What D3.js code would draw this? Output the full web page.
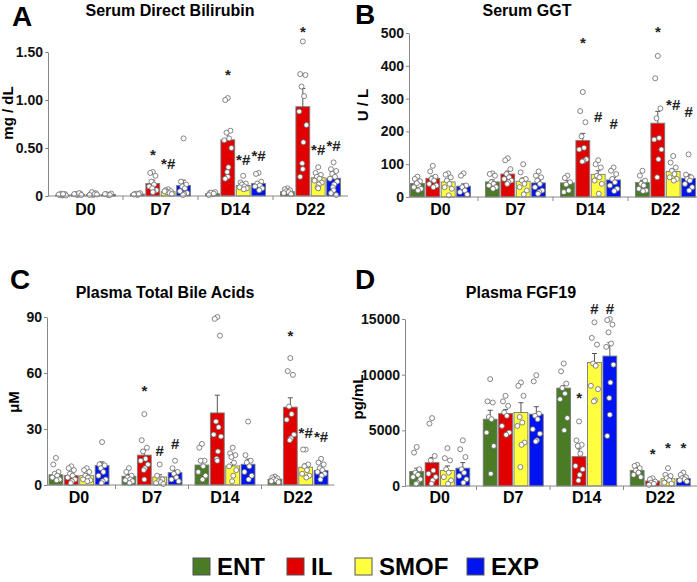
<!DOCTYPE html>
<html>
<head>
<meta charset="utf-8">
<script src="https://cdn.jsdelivr.net/npm/d3@7"></script>
<style>
  body { margin: 0; background: #fff; }
  svg { display: block; }
  text { font-family: "Liberation Sans", Arial, sans-serif; font-weight: bold; }
</style>
</head>
<body>
<script>
// categories
var days = ["D0", "D7", "D14", "D22"];
var groups = ["ENT", "IL", "SMOF", "EXP"];
var groupColors = ["#4a7b25", "#e00000", "#ffff40", "#0014f2"];

// A - serum direct bilirubin (mg/dL), rows = day, cols = group
var dbilMean = [[0.01, 0.015, 0.015, 0.015], [0.02, 0.13, 0.045, 0.11], [0.025, 0.585, 0.11, 0.13], [0.045, 0.93, 0.19, 0.185]];
var dbilSem = [[0.003, 0.003, 0.004, 0.003], [0.003, 0.035, 0.008, 0.055], [0.004, 0.085, 0.015, 0.02], [0.008, 0.19, 0.022, 0.03]];
var dbilPts = [
    [[0.005, 0.01, 0.02, 0.025, 0.01, 0.015, 0.005, 0.02], [0.01, 0.02, 0.025, 0.015, 0.03, 0.02, 0.01], [0.01, 0.02, 0.03, 0.04, 0.02, 0.01, 0.015], [0.01, 0.02, 0.025, 0.015, 0.01, 0.02]],
    [[0.01, 0.02, 0.03, 0.025, 0.02, 0.015], [0.25, 0.24, 0.21, 0.15, 0.12, 0.1, 0.06, 0.05, 0.08, 0.04], [0.07, 0.06, 0.05, 0.04, 0.03, 0.05, 0.02], [0.6, 0.15, 0.12, 0.1, 0.08, 0.05, 0.03, 0.02, 0.01]],
    [[0.02, 0.03, 0.04, 0.035, 0.025, 0.01], [1.02, 1.0, 0.68, 0.66, 0.6, 0.58, 0.5, 0.3, 0.25, 0.2, 0.18], [0.21, 0.14, 0.13, 0.12, 0.1, 0.09, 0.08, 0.07], [0.24, 0.23, 0.15, 0.13, 0.11, 0.1, 0.08, 0.06]],
    [[0.08, 0.07, 0.06, 0.05, 0.04, 0.03, 0.02], [1.61, 1.27, 1.26, 1.14, 1.04, 0.88, 0.74, 0.56, 0.34, 0.28, 0.2], [0.3, 0.24, 0.22, 0.2, 0.18, 0.16, 0.14, 0.12, 0.09, 0.08], [0.35, 0.28, 0.26, 0.23, 0.2, 0.18, 0.15, 0.12, 0.09, 0.06, 0.03, 0.01]]
];
var dbilMarks = [["D7", "IL", "*", 0.43], ["D7", "SMOF", "*#", 0.33], ["D14", "IL", "*", 1.26], ["D14", "SMOF", "*#", 0.37], ["D14", "EXP", "*#", 0.42], ["D22", "IL", "*", 1.71], ["D22", "SMOF", "*#", 0.48], ["D22", "EXP", "*#", 0.52]];
var dbilTicks = [0, 0.5, 1.0, 1.5];

// B - serum GGT (U/L)
var ggtMean = [[41, 57, 46, 33], [46, 70, 48, 43], [43, 172, 69, 52], [44, 225, 78, 57]];
var ggtSem = [[5, 7, 7, 7], [6, 9, 10, 7], [7, 22, 11, 8], [7, 36, 8, 12]];
var ggtPts = [
    [[62, 55, 48, 40, 35, 30, 25, 20, 42], [95, 78, 62, 55, 50, 40, 35, 30], [72, 68, 60, 50, 40, 30, 25, 5], [72, 65, 35, 30, 20, 15, 8]],
    [[72, 70, 65, 45, 40, 35, 30, 25], [118, 112, 85, 70, 60, 55, 50, 45, 40], [100, 75, 55, 50, 40, 30, 20, 8], [78, 65, 60, 50, 40, 30, 20, 15, 10]],
    [[65, 58, 45, 38, 20, 15], [320, 262, 228, 185, 150, 145, 115, 110, 108], [112, 100, 90, 65, 60, 50, 40, 10], [90, 80, 70, 55, 45, 35, 25, 18]],
    [[80, 65, 50, 40, 35, 25, 20, 18], [430, 362, 270, 240, 180, 175, 145, 115, 60], [125, 105, 90, 80, 70, 60, 55, 50], [130, 68, 60, 55, 50, 40, 30, 20]]
];
var ggtMarks = [["D14", "IL", "*", 470], ["D14", "SMOF", "#", 245], ["D14", "EXP", "#", 222], ["D22", "IL", "*", 502], ["D22", "SMOF", "*#", 281], ["D22", "EXP", "#", 260]];
var ggtTicks = [0, 100, 200, 300, 400, 500];

// C - plasma total bile acids (uM)
var tbaMean = [[5.5, 5, 5, 10.4], [4.7, 16, 4.3, 6.6], [10.7, 38.6, 10.2, 11.1], [3.1, 41.7, 9.5, 7.8]];
var tbaSem = [[1.2, 1, 0.8, 2], [0.9, 2.8, 1.2, 1.2], [2.2, 9.5, 1.8, 2.8], [0.4, 5, 1.8, 1.2]];
var tbaPts = [
    [[14.5, 11, 7, 6, 5, 4, 3, 2.5], [10, 9, 8, 6, 5, 4, 3, 2, 1], [9, 8, 7, 5, 4, 3, 2.5, 2], [23, 11, 10.5, 9, 7, 5, 3, 2, 1]],
    [[9, 7, 5, 4, 3, 2.5, 2, 1], [38, 24, 20, 18, 14, 13, 11, 9, 8, 3], [11, 5, 3, 2, 1.5, 1, 0.5], [13, 9, 7, 6, 4, 3, 2]],
    [[22, 20, 13, 13, 10, 7, 5, 3], [90, 89, 80, 34, 31, 27, 26, 18, 14, 13], [20, 17, 16, 15, 12, 10, 8, 5, 2], [34, 16, 13, 12, 10, 7, 5, 3]],
    [[4.5, 4, 3.5, 3, 2.5, 2, 1.5], [68, 61, 59, 42, 38, 35, 27, 25, 24], [19, 19, 11, 10, 8, 6, 5, 4], [14, 12, 11, 9, 8, 7, 6, 5, 3]]
];
var tbaMarks = [["D7", "IL", "*", 50.6], ["D7", "SMOF", "#", 18.3], ["D7", "EXP", "#", 21.9], ["D22", "IL", "*", 80], ["D22", "SMOF", "*#", 27.6], ["D22", "EXP", "*#", 25.9]];
var tbaTicks = [0, 30, 60, 90];

// D - plasma FGF19 (pg/mL)
var fgfMean = [[1300, 2100, 1400, 1600], [6000, 6500, 6600, 6450], [8790, 2640, 11100, 11670], [1400, 450, 650, 680]];
var fgfSem = [[300, 450, 400, 500], [800, 360, 880, 670], [240, 700, 800, 1200], [150, 100, 150, 120]];
var fgfPts = [
    [[3500, 3000, 1500, 1200, 1000, 800, 600, 300, 200], [6100, 5600, 2700, 2300, 1400, 1100, 800, 500, 200], [3400, 2500, 2300, 1500, 1200, 800, 500, 200], [4100, 3300, 2600, 1500, 1200, 900, 600, 300]],
    [[9600, 7600, 7500, 6200, 6000, 4800, 3600, 1100], [8100, 7600, 7200, 6600, 6300, 5400, 4800, 4600], [9300, 9000, 8100, 6200, 5700, 5400, 3900, 3700, 1700], [9950, 9400, 6500, 6300, 6000, 5100, 4700, 4100, 4000]],
    [[11000, 10300, 9200, 8800, 8300, 7800, 6100, 5000], [5800, 4100, 3700, 3600, 2900, 1800, 1500, 1000, 500], [14700, 13300, 12700, 11000, 10800, 9000, 8700, 7700, 7600], [15000, 14900, 14500, 13800, 12800, 12500, 10900, 9300, 7900, 6400, 4500]],
    [[1900, 1800, 1600, 1400, 1200, 1000, 800], [700, 600, 400, 300, 200, 100], [1600, 1000, 900, 700, 500, 300, 200], [1200, 1000, 800, 700, 600, 500, 400]]
];
var fgfMarks = [["D14", "IL", "*", 7900], ["D14", "SMOF", "#", 15900], ["D14", "EXP", "#", 15900], ["D22", "IL", "*", 2830], ["D22", "SMOF", "*", 3400], ["D22", "EXP", "*", 3400]];
var fgfTicks = [0, 5000, 10000, 15000];

// layout for each panel
var panels = [
    { letter: "A", title: "Serum Direct Bilirubin", ylab: "mg / dL", mean: dbilMean, sem: dbilSem, pts: dbilPts, marks: dbilMarks, ticks: dbilTicks,
      fmt: function (d) { return d === 0 ? "0" : d3.format(".2f")(d); },
      left: 48, step: 75, axisX: 48, zero: 196, top: 52, max: 1.5,
      titleX: 170, titleY: 16, letX: 12, letY: 26, ylabX: 13, ylabY: 113, xlabY: 215 },
    { letter: "B", title: "Serum GGT", ylab: "U / L", mean: ggtMean, sem: ggtSem, pts: ggtPts, marks: ggtMarks, ticks: ggtTicks,
      fmt: d3.format("d"),
      left: 403, step: 75, axisX: 409, zero: 197, top: 33, max: 500,
      titleX: 527, titleY: 16, letX: 355, letY: 24, ylabX: 368, ylabY: 105, xlabY: 215 },
    { letter: "C", title: "Plasma Total Bile Acids", ylab: "\u03bcM", mean: tbaMean, sem: tbaSem, pts: tbaPts, marks: tbaMarks, ticks: tbaTicks,
      fmt: d3.format("d"),
      left: 42.5, step: 73, axisX: 47, zero: 485, top: 317, max: 90,
      titleX: 165, titleY: 298, letX: 10, letY: 289, ylabX: 19, ylabY: 402, xlabY: 503 },
    { letter: "D", title: "Plasma FGF19", ylab: "pg/mL", mean: fgfMean, sem: fgfSem, pts: fgfPts, marks: fgfMarks, ticks: fgfTicks,
      fmt: d3.format("d"),
      left: 403, step: 73.5, axisX: 405, zero: 486, top: 319, max: 15000,
      titleX: 521, titleY: 298, letX: 355, letY: 289, ylabX: 363, ylabY: 397, xlabY: 503 }
];

var jitter = [0, -2.6, 2.6, -1.3, 1.3, -3.6, 3.6, 0.6, -0.6];

var svg = d3.select("body")
    .append("svg")
    .attr("width", 697)
    .attr("height", 582);

panels.forEach(drawPanel);
drawLegend();

function drawPanel(p) {
    var g = svg.append("g");

    var x = d3.scaleBand()
        .domain(days)
        .range([p.left, p.left + p.step * days.length]);
    var xi = d3.scaleBand()
        .domain(groups)
        .range([-30, 30])
        .paddingInner(0.1);
    var y = d3.scaleLinear()
        .domain([0, p.max])
        .range([p.zero, p.top]);

    // flat records for the bars
    var rows = [];
    days.forEach(function (day, di) {
        groups.forEach(function (grp, gi) {
            rows.push({ day: day, group: grp, gi: gi, mean: p.mean[di][gi], sem: p.sem[di][gi], pts: p.pts[di][gi] });
        });
    });
    function cx(d) {
        return x(d.day) + x.bandwidth() / 2 + xi(d.group);
    }

    g.append("g").selectAll("rect")
        .data(rows)
        .enter().append("rect")
        .attr("x", cx)
        .attr("y", function (d) { return y(d.mean); })
        .attr("width", xi.bandwidth())
        .attr("height", function (d) { return p.zero - y(d.mean); })
        .style("fill", function (d) { return groupColors[d.gi]; })
        .style("stroke", "#7a7a7a")
        .style("stroke-width", 0.9);

    // error bars (upper only)
    var eb = g.append("g").selectAll("g")
        .data(rows)
        .enter().append("g")
        .style("stroke", "#555")
        .style("stroke-width", 1);
    eb.append("line")
        .attr("x1", function (d) { return cx(d) + xi.bandwidth() / 2; })
        .attr("x2", function (d) { return cx(d) + xi.bandwidth() / 2; })
        .attr("y1", function (d) { return y(d.mean); })
        .attr("y2", function (d) { return y(d.mean + d.sem); });
    eb.append("line")
        .attr("x1", function (d) { return cx(d) + xi.bandwidth() / 2 - 2.5; })
        .attr("x2", function (d) { return cx(d) + xi.bandwidth() / 2 + 2.5; })
        .attr("y1", function (d) { return y(d.mean + d.sem); })
        .attr("y2", function (d) { return y(d.mean + d.sem); });

    // individual points
    var pts = [];
    rows.forEach(function (r) {
        r.pts.forEach(function (v, i) {
            pts.push({ x: cx(r) + xi.bandwidth() / 2 + jitter[i % jitter.length], v: v });
        });
    });
    g.append("g").selectAll("circle")
        .data(pts)
        .enter().append("circle")
        .attr("cx", function (d) { return d.x; })
        .attr("cy", function (d) { return y(d.v); })
        .attr("r", 2.5)
        .style("fill", "#fff")
        .style("stroke", "#666")
        .style("stroke-width", 0.8);

    // significance marks
    g.append("g").selectAll("text")
        .data(p.marks)
        .enter().append("text")
        .attr("x", function (d) { return x(d[0]) + x.bandwidth() / 2 + xi(d[1]) + xi.bandwidth() / 2; })
        .attr("y", function (d) { return y(d[3]) + 5; })
        .attr("text-anchor", "middle")
        .style("font-size", "15px")
        .style("fill", "#222")
        .text(function (d) { return d[2]; });

    // y axis
    var ya = g.append("g")
        .attr("transform", "translate(" + p.axisX + ",0)")
        .call(d3.axisLeft(y).tickValues(p.ticks).tickFormat(p.fmt).tickSize(3).tickPadding(2).tickSizeOuter(0));
    ya.attr("font-family", null).attr("font-size", null);
    ya.select(".domain").style("stroke", "#888");
    ya.selectAll(".tick line").style("stroke", "#888");
    ya.selectAll(".tick text").style("font-size", "14px").style("fill", "#111");

    // x axis
    var xEnd = p.left + p.step * days.length;
    g.append("line")
        .attr("x1", p.axisX).attr("x2", xEnd)
        .attr("y1", p.zero).attr("y2", p.zero)
        .style("stroke", "#888");
    g.append("g").selectAll("line")
        .data(days.slice(1))
        .enter().append("line")
        .attr("x1", function (d) { return x(d); })
        .attr("x2", function (d) { return x(d); })
        .attr("y1", p.zero)
        .attr("y2", p.zero + 4)
        .style("stroke", "#888");
    g.append("g").selectAll("text")
        .data(days)
        .enter().append("text")
        .attr("x", function (d) { return x(d) + x.bandwidth() / 2; })
        .attr("y", p.xlabY)
        .attr("text-anchor", "middle")
        .style("font-size", "16px")
        .text(function (d) { return d; });

    // titles
    g.append("text")
        .attr("x", p.titleX)
        .attr("y", p.titleY)
        .attr("text-anchor", "middle")
        .style("font-size", "16px")
        .text(p.title);
    g.append("text")
        .attr("x", p.letX)
        .attr("y", p.letY)
        .style("font-size", "28px")
        .text(p.letter);
    g.append("text")
        .attr("transform", "translate(" + p.ylabX + "," + p.ylabY + ") rotate(-90)")
        .attr("text-anchor", "middle")
        .style("font-size", "15px")
        .text(p.ylab);
}

function drawLegend() {
    var legX = [193, 287, 355, 467];
    var leg = svg.append("g")
        .selectAll("g")
        .data(groups)
        .enter().append("g")
        .attr("transform", function (d, i) { return "translate(" + legX[i] + ",558)"; });
    leg.append("rect")
        .attr("width", 17)
        .attr("height", 17)
        .style("fill", function (d, i) { return groupColors[i]; })
        .style("stroke", "#555")
        .style("stroke-width", 1);
    leg.append("text")
        .attr("x", 24)
        .attr("y", 17)
        .style("font-size", "24px")
        .text(function (d) { return d; });
}
</script>
</body>
</html>
